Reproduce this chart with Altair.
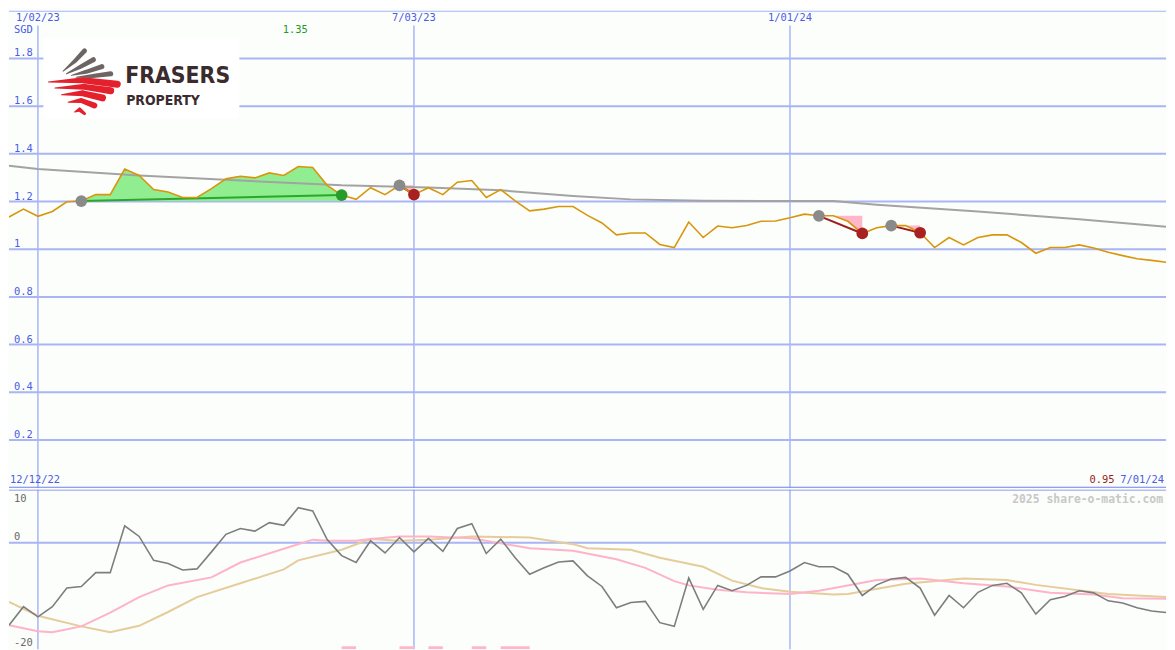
import altair as alt
import pandas as pd

# ---------------- data ----------------
# weekly closes, week 0 = 19 Dec 2022 ... week 80 = 1 Jul 2024 (SGD)
weeks = list(range(81))
price = [1.135, 1.168, 1.138, 1.158, 1.199, 1.202, 1.229, 1.229, 1.336, 1.309,
         1.250, 1.240, 1.217, 1.217, 1.254, 1.295, 1.306, 1.299, 1.320, 1.309,
         1.347, 1.343, 1.268, 1.227, 1.209, 1.258, 1.229, 1.268, 1.229, 1.258,
         1.229, 1.281, 1.288, 1.217, 1.250, 1.203, 1.161, 1.168, 1.179, 1.179,
         1.142, 1.110, 1.060, 1.068, 1.068, 1.020, 1.007, 1.114, 1.049, 1.097,
         1.090, 1.099, 1.117, 1.118, 1.132, 1.147, 1.140, 1.140, 1.117, 1.066,
         1.090, 1.099, 1.099, 1.069, 1.007, 1.049, 1.018, 1.049, 1.060, 1.060,
         1.028, 0.983, 1.007, 1.007, 1.018, 1.005, 0.987, 0.973, 0.960, 0.953,
         0.945]

# long moving average (grey)
ma_weeks = [0, 2, 9, 16, 23, 29, 34, 39, 43, 48, 57, 60, 67, 74, 80]
ma_vals = [1.350, 1.336, 1.309, 1.288, 1.268, 1.259, 1.247, 1.223, 1.209, 1.203,
           1.202, 1.186, 1.158, 1.126, 1.094]

# lower panel oscillator (dark grey)
osc = [-15.5, -12.0, -13.9, -12.0, -8.5, -8.2, -5.6, -5.6, 3.2, 1.2,
       -3.3, -3.9, -5.1, -4.9, -1.7, 1.6, 2.7, 2.2, 3.8, 3.3,
       6.6, 6.0, 0.6, -2.4, -3.7, 0.4, -1.9, 1.0, -1.7, 0.85,
       -1.6, 2.7, 3.6, -2.0, 0.7, -2.8, -5.9, -4.7, -3.6, -3.4,
       -6.2, -8.2, -12.2, -11.2, -11.0, -15.0, -15.7, -6.6, -12.5, -8.0,
       -9.0, -8.0, -6.4, -6.4, -5.3, -3.7, -4.5, -4.5, -5.9, -9.9,
       -7.9, -6.8, -6.5, -8.5, -13.6, -9.9, -12.2, -9.3, -8.0, -7.6,
       -9.4, -13.4, -10.7, -10.1, -9.0, -9.4, -10.9, -11.3, -12.2, -12.8,
       -13.1]

# smoothed oscillator lines
pink_weeks = [0, 2, 3, 5, 7, 9, 11, 14, 16, 19, 21, 22, 24, 25, 27, 29, 32, 34, 36, 39,
              42, 44, 46, 47, 49, 51, 54, 56, 58, 60, 63, 66, 69, 72, 75, 77, 80]
pink_vals = [-15.5, -16.6, -16.8, -15.7, -13.1, -10.2, -8.0, -6.5, -3.7, -1.1,
             0.6, 0.4, 0.4, 0.7, 1.2, 1.2, 0.85, -0.1, -1.0, -1.5,
             -3.1, -4.7, -7.2, -8.0, -8.8, -9.3, -9.6, -9.0, -8.0, -7.0,
             -6.7, -7.6, -8.2, -9.4, -9.7, -10.4, -10.5]
tan_weeks = [0, 2, 5, 7, 9, 11, 13, 16, 19, 20, 23, 25, 27, 29, 32, 36, 39, 40, 43, 45,
             48, 50, 52, 54, 57, 58, 62, 66, 69, 71, 76, 80]
tan_vals = [-11.1, -13.7, -15.7, -16.8, -15.6, -13.0, -10.2, -7.6, -5.0, -3.3,
            -1.3, 0.7, 0.4, 0.6, 1.2, 1.0, -0.25, -1.0, -1.3, -2.8,
            -4.5, -7.1, -8.5, -9.2, -9.7, -9.6, -7.7, -6.7, -7.0, -7.9,
            -9.6, -10.2]

# trades: entry week, exit week, result
trade_entry = [5, 27, 56, 61]
trade_exit = [23, 28, 59, 63]
trade_result = ["win", "loss", "loss", "loss"]

# pink signal bars at the bottom of the lower panel
signal_start = [23, 27, 29, 32, 34]
signal_end = [24, 28, 30, 33, 36]

# axes
date_weeks = [2, 28, 54]
date_labels = ["1/02/23", "7/03/23", "1/01/24"]
price_ticks = [0.2, 0.4, 0.6, 0.8, 1.0, 1.2, 1.4, 1.6, 1.8]
price_labels = ["0.2", "0.4", "0.6", "0.8", "1", "1.2", "1.4", "1.6", "1.8"]
max_label = "1.35"
max_week = 20
last_label = "0.95"
start_label = "12/12/22"
end_label = "7/01/24"
currency = "SGD"

# logo (in chart units: week, SGD)
logo_box = {"x": 2.38, "x2": 15.93, "y": 1.885, "y2": 1.548}
logo_stripes = {
    "g1": [(3.745, 1.7467, 1), (4.539, 1.7878, 4), (5.220, 1.8316, 5)],
    "g2": [(3.971, 1.7358, 1), (4.880, 1.7632, 4), (5.833, 1.7947, 5)],
    "g3": [(4.312, 1.7290, 1), (5.333, 1.7440, 4), (6.423, 1.7659, 5)],
    "g4": [(4.652, 1.7207, 1), (5.787, 1.7262, 4), (7.035, 1.7358, 5)],
    "r1": [(2.723, 1.7016, 1), (5.106, 1.7084, 6), (7.489, 1.6920, 7)],
    "r2": [(3.177, 1.6756, 1), (5.220, 1.6810, 6), (7.035, 1.6646, 7)],
    "r3": [(3.631, 1.6482, 1), (5.106, 1.6537, 6), (6.468, 1.6345, 7)],
    "r4": [(4.085, 1.6167, 1), (4.993, 1.6236, 5), (5.901, 1.6030, 6)],
    "r5": [(4.539, 1.5756, 1), (4.880, 1.5852, 4), (5.220, 1.5688, 3)],
}

# ---------------- style ----------------
W, H1, H2 = 1167, 481, 161
BG = "#fbfefb"
GRID = "#a9b5f5"
SEP = "#7080ee"
LABEL = "#4c5ce6"
MONO = "DejaVu Sans Mono"
FS = 10.5
LOGO_FONT = "Liberation Sans Narrow, DejaVu Sans Condensed, Roboto"

xs = alt.Scale(domain=[0, 80], nice=False, zero=False)
ys = alt.Scale(domain=[0, 2], nice=False, zero=False)
ys2 = alt.Scale(domain=[-20, 10], nice=False, zero=False)


def X(f):
    return alt.X(f, type="quantitative", scale=xs, axis=None)


def Y(f, s):
    return alt.Y(f, type="quantitative", scale=s, axis=None)


# ---------------- upper panel ----------------
price_df = pd.DataFrame({"w": weeks, "p": price})
ma_df = pd.DataFrame({"w": ma_weeks, "p": ma_vals})

grid_df = pd.DataFrame({"v": price_ticks, "t": price_labels})
vert_df = pd.DataFrame({"w": date_weeks, "t": date_labels, "y0": 0.0, "y1": 1.938})

fill_rows = []
for k, (a, b, r) in enumerate(zip(trade_entry, trade_exit, trade_result)):
    for w in range(a, b + 1):
        fill_rows.append({"trade": k, "w": w, "p": price[w], "e": price[a], "r": r})
fill_df = pd.DataFrame(fill_rows)

tl_rows = []
mk_rows = []
for k, (a, b, r) in enumerate(zip(trade_entry, trade_exit, trade_result)):
    col = "#2aa82a" if r == "win" else "#a01c1c"
    tl_rows.append({"trade": k, "w": a, "p": price[a], "c": col})
    tl_rows.append({"trade": k, "w": b, "p": price[b], "c": col})
    mk_rows.append({"w": a, "p": price[a], "c": "#8a8a8a"})
    mk_rows.append({"w": b, "p": price[b], "c": "#2a9a2a" if r == "win" else "#a82020"})
tl_df = pd.DataFrame(tl_rows)
mk_df = pd.DataFrame(mk_rows)

stripe_rows = []
for name, pts in logo_stripes.items():
    col = "#6e6464" if name.startswith("g") else "#e3202b"
    for i, (lx, ly, s) in enumerate(pts):
        stripe_rows.append({"s": name, "k": i, "x": lx, "y": ly, "size": s, "c": col})
stripe_df = pd.DataFrame(stripe_rows)

grid_h = alt.Chart(grid_df).mark_rule(color=GRID, strokeWidth=2).encode(y=Y("v", ys))
edge_top = alt.Chart(pd.DataFrame({"v": [2.0]})).mark_rule(color=GRID, strokeWidth=2, clip=True).encode(y=Y("v", ys))
edge_bot = alt.Chart(pd.DataFrame({"v": [0.0]})).mark_rule(color=SEP, strokeWidth=2, clip=True).encode(y=Y("v", ys))
grid_v = alt.Chart(vert_df).mark_rule(color=GRID, strokeWidth=1.5).encode(
    x=X("w"), y=Y("y0", ys), y2="y1")

logo_rect = alt.Chart(pd.DataFrame([logo_box])).mark_rect(color="white").encode(
    x=X("x"), x2="x2", y=Y("y", ys), y2="y2")
logo_marks = alt.Chart(stripe_df).mark_trail().encode(
    x=X("x"), y=Y("y", ys), detail="s:N", order="k:Q",
    size=alt.Size("size:Q", scale=None), color=alt.Color("c:N", scale=None))
logo_t1 = alt.Chart(pd.DataFrame({"x": [8.03], "y": [1.697], "t": ["FRASERS"]})).mark_text(
    align="left", baseline="alphabetic", font=LOGO_FONT,
    fontWeight="bold", fontSize=23, color="#3b2b2d").encode(x=X("x"), y=Y("y", ys), text="t:N")
logo_t2 = alt.Chart(pd.DataFrame({"x": [8.1], "y": [1.606], "t": ["PROPERTY"]})).mark_text(
    align="left", baseline="alphabetic", font=LOGO_FONT,
    fontWeight="bold", fontSize=14, color="#3b2b2d").encode(x=X("x"), y=Y("y", ys), text="t:N")

fill_win = alt.Chart(fill_df[fill_df.r == "win"]).mark_area(color="#90ee90", opacity=1).encode(
    x=X("w"), y=Y("p", ys), y2="e", detail="trade:N")
fill_loss = alt.Chart(fill_df[fill_df.r == "loss"]).mark_area(color="#ffb6c8", opacity=1).encode(
    x=X("w"), y=Y("p", ys), y2="e", detail="trade:N")

ma_line = alt.Chart(ma_df).mark_line(color="#a3a3a3", strokeWidth=2, clip=True).encode(
    x=X("w"), y=Y("p", ys))
trade_lines = alt.Chart(tl_df).mark_line(strokeWidth=2).encode(
    x=X("w"), y=Y("p", ys), detail="trade:N", color=alt.Color("c:N", scale=None))
price_line = alt.Chart(price_df).mark_line(color="#d8960c", strokeWidth=1.6, clip=True).encode(
    x=X("w"), y=Y("p", ys))
markers = alt.Chart(mk_df).mark_circle(size=140, opacity=1).encode(
    x=X("w"), y=Y("p", ys), color=alt.Color("c:N", scale=None))

ylab = alt.Chart(grid_df).mark_text(align="left", baseline="alphabetic", dx=5, dy=-2,
                                    font=MONO, fontSize=FS, color=LABEL).encode(
    x=alt.value(0), y=Y("v", ys), text="t:N")
xlab = alt.Chart(vert_df.assign(top=2.0)).mark_text(align="center", baseline="top", dy=2,
                                                   font=MONO, fontSize=FS, color=LABEL).encode(
    x=X("w"), y=Y("top", ys), text="t:N")
sgd = alt.Chart(pd.DataFrame({"y": [1.918], "t": [currency]})).mark_text(
    align="left", baseline="middle", dx=5, font=MONO, fontSize=FS, color=LABEL).encode(
    x=alt.value(0), y=Y("y", ys), text="t:N")
maxlab = alt.Chart(pd.DataFrame({"w": [max_week], "y": [1.918], "t": [max_label]})).mark_text(
    align="center", baseline="middle", dx=-3, font=MONO, fontSize=FS, color="#1f9a1f").encode(
    x=X("w"), y=Y("y", ys), text="t:N")
startlab = alt.Chart(pd.DataFrame({"y": [0.0], "t": [start_label]})).mark_text(
    align="left", baseline="alphabetic", dx=1, dy=-5, font=MONO, fontSize=FS, color=LABEL).encode(
    x=alt.value(0), y=Y("y", ys), text="t:N")
endlab = alt.Chart(pd.DataFrame({"w": [80], "y": [0.0], "t": [end_label]})).mark_text(
    align="right", baseline="alphabetic", dx=-2, dy=-5, font=MONO, fontSize=FS, color=LABEL).encode(
    x=X("w"), y=Y("y", ys), text="t:N")
lastlab = alt.Chart(pd.DataFrame({"w": [80], "y": [0.0], "t": [last_label]})).mark_text(
    align="right", baseline="alphabetic", dx=-52, dy=-5, font=MONO, fontSize=FS, color="#9a1f1f").encode(
    x=X("w"), y=Y("y", ys), text="t:N")

upper = alt.layer(
    grid_h, edge_top, grid_v, logo_rect, logo_marks, logo_t1, logo_t2,
    fill_win, fill_loss, ma_line, trade_lines, price_line, markers,
    ylab, xlab, sgd, maxlab, startlab, endlab, lastlab, edge_bot
).properties(width=W, height=H1)

# ---------------- lower panel ----------------
osc_df = pd.DataFrame({"w": weeks, "v": osc})
pink_df = pd.DataFrame({"w": pink_weeks, "v": pink_vals})
tan_df = pd.DataFrame({"w": tan_weeks, "v": tan_vals})
sig_df = pd.DataFrame({"a": signal_start, "b": signal_end, "y0": -20.0, "y1": -19.45})

zero_rule = alt.Chart(pd.DataFrame({"v": [0.0]})).mark_rule(color=GRID, strokeWidth=2).encode(y=Y("v", ys2))
top_rule2 = alt.Chart(pd.DataFrame({"v": [10.0]})).mark_rule(color=SEP, strokeWidth=2, clip=True).encode(y=Y("v", ys2))
vert2 = alt.Chart(vert_df).mark_rule(color=GRID, strokeWidth=1.5).encode(x=X("w"))
sig = alt.Chart(sig_df).mark_rect(color="#ffb6c8", clip=True).encode(
    x=X("a"), x2="b", y=Y("y0", ys2), y2="y1")
tan_line = alt.Chart(tan_df).mark_line(color="#e6cc9a", strokeWidth=2, clip=True).encode(x=X("w"), y=Y("v", ys2))
pink_line = alt.Chart(pink_df).mark_line(color="#ffb3c8", strokeWidth=2, clip=True).encode(x=X("w"), y=Y("v", ys2))
osc_line = alt.Chart(osc_df).mark_line(color="#7d7d7d", strokeWidth=1.6, clip=True).encode(x=X("w"), y=Y("v", ys2))

lab_top = alt.Chart(pd.DataFrame({"v": [10.0], "t": ["10"]})).mark_text(
    align="left", baseline="top", dx=5, dy=4, font=MONO, fontSize=FS, color="#6a6a6a").encode(
    x=alt.value(0), y=Y("v", ys2), text="t:N")
lab_rest = alt.Chart(pd.DataFrame({"v": [0.0, -20.0], "t": ["0", "-20"]})).mark_text(
    align="left", baseline="alphabetic", dx=5, dy=-3, font=MONO, fontSize=FS, color="#6a6a6a").encode(
    x=alt.value(0), y=Y("v", ys2), text="t:N")
wm = alt.Chart(pd.DataFrame({"w": [80], "v": [10.0], "t": ["2025 share-o-matic.com"]})).mark_text(
    align="right", baseline="top", dx=-3, dy=4, font=MONO, fontSize=11.5, fontWeight="bold",
    color="#c8c8c8").encode(x=X("w"), y=Y("v", ys2), text="t:N")

lower = alt.layer(
    zero_rule, vert2, sig, tan_line, pink_line, osc_line, lab_top, lab_rest, wm, top_rule2
).properties(width=W, height=H2)

chart = alt.vconcat(upper, lower, spacing=0).properties(padding=0).configure(
    background=BG).configure_view(stroke=None)

chart.save("out.html", embed_options={"renderer": "svg", "actions": False})
